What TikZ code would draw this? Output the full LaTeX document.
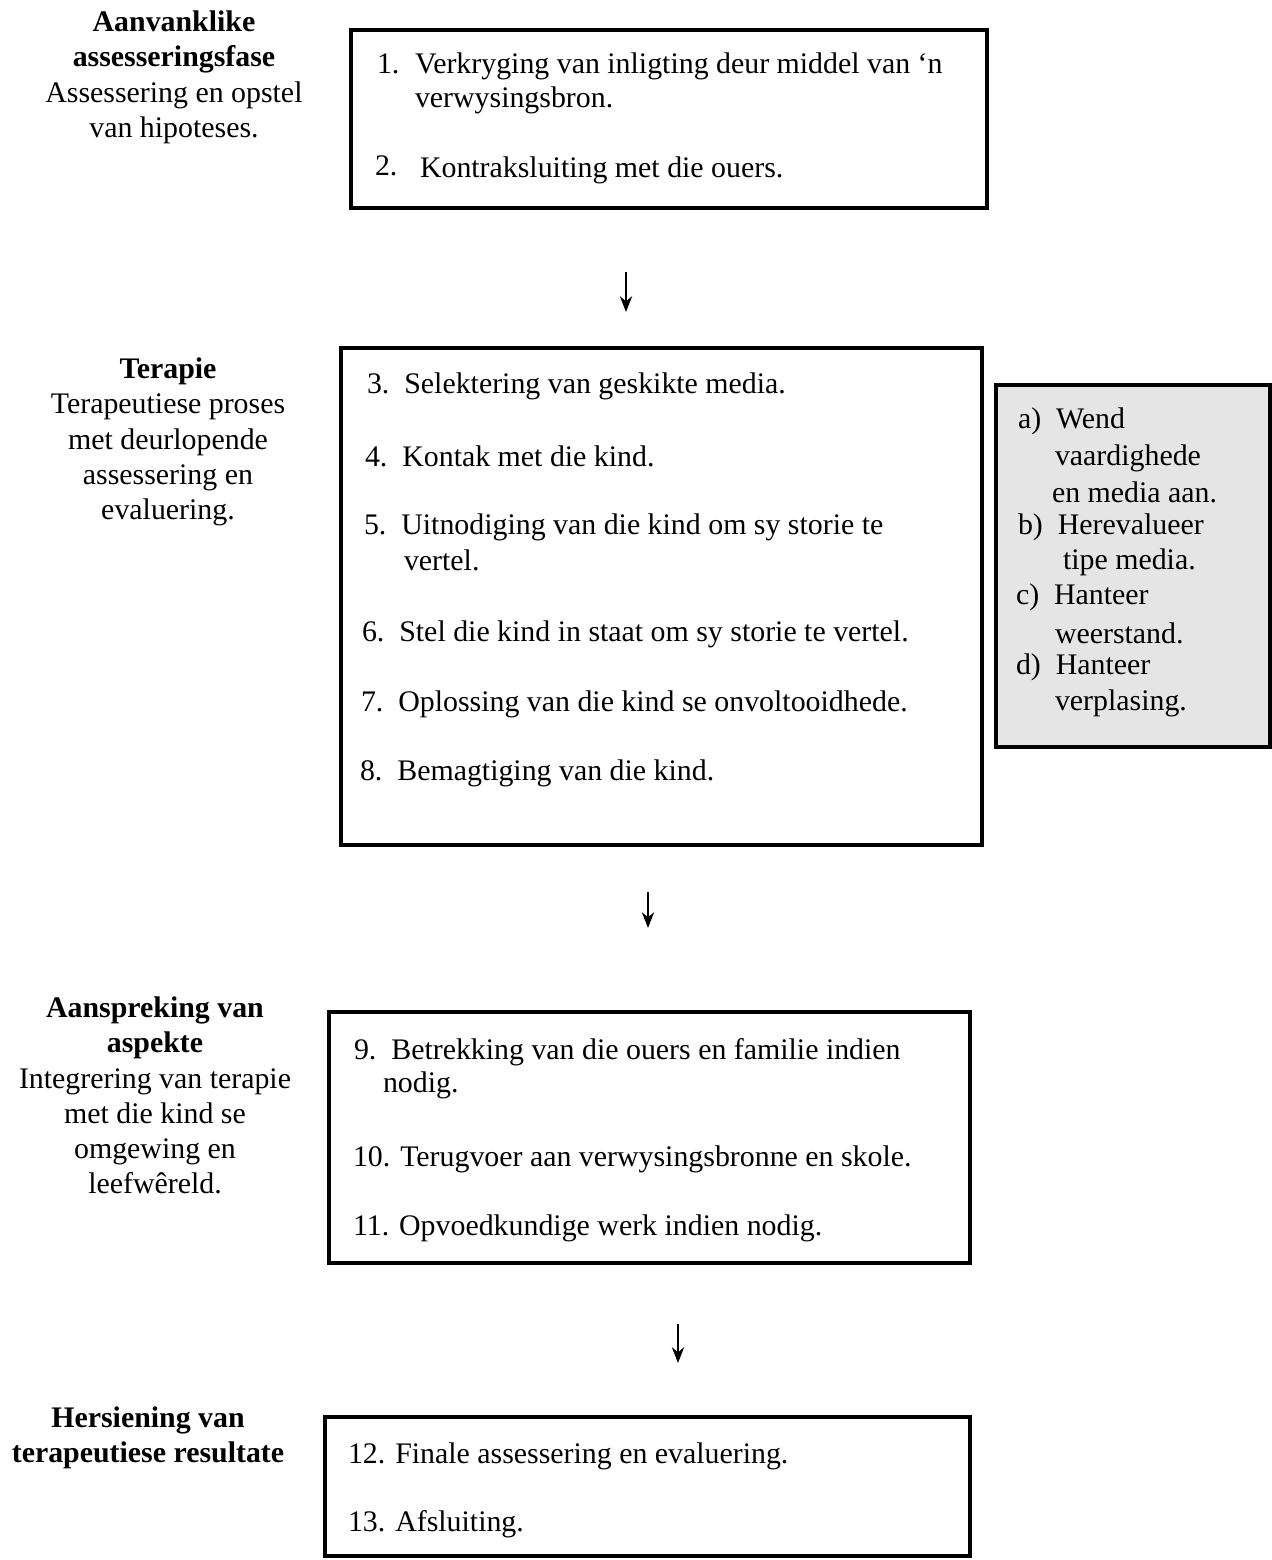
\documentclass[tikz,border=0pt]{standalone}
\usepackage{fontspec}
\setmainfont{Liberation Serif}
\usetikzlibrary{arrows.meta}
\begin{document}
\begin{tikzpicture}[x=0.02cm,y=-0.02cm,
  every node/.style={inner sep=0pt, outer sep=0pt, font=\fontsize{17}{20}\selectfont},
  box/.style={draw=black, line width=2.3pt, rectangle},
  graybox/.style={box, fill=black!10},
  item/.style={anchor=west},
  phase/.style={align=center, anchor=north},
  arr/.style={line width=1.1pt, -{Stealth[length=9pt,width=7pt]}}]
\useasboundingbox (0,0) rectangle (1272,1560);
% boxes
\node[box, minimum width=12.72cm, minimum height=3.56cm] (b1) at (669,119) {};
\node[box, minimum width=12.82cm, minimum height=9.94cm] (b2) at (661.5,596.5) {};
\node[graybox, minimum width=5.48cm, minimum height=7.24cm] (b2x) at (1133,566) {};
\node[box, minimum width=12.82cm, minimum height=5.02cm] (b3) at (649.5,1137.5) {};
\node[box, minimum width=12.9cm, minimum height=2.78cm] (b4) at (647.5,1486.5) {};
% phase labels
\node[phase] (p1) at (174,11) {\textbf{Aanvanklike}\\ \textbf{assesseringsfase}\\ Assessering en opstel\\ van hipoteses.};
\node[phase] (p2) at (168,358) {\textbf{Terapie}\\ Terapeutiese proses\\ met deurlopende\\ assessering en\\ evaluering.};
\node[phase] (p3) at (155,997) {\textbf{Aanspreking van}\\ \textbf{aspekte}\\ Integrering van terapie\\ met die kind se\\ omgewing en\\ leefwêreld.};
\node[phase] (p4) at (148,1407) {\textbf{Hersiening van}\\ \textbf{terapeutiese resultate}};
% box 1
\node[item] (t1) at (377,64) {1.};
\node[item] (t1a) at (415,66) {Verkryging van inligting deur middel van ‘n};
\node[item] (t1b) at (415,100) {verwysingsbron.};
\node[item] (t2) at (375,166) {2.};
\node[item] (t2a) at (420,170) {Kontraksluiting met die ouers.};
% box 2
\node[item] (t3) at (367,386) {3.\ \ Selektering van geskikte media.};
\node[item] (t4) at (365,456) {4.\ \ Kontak met die kind.};
\node[item] (t5) at (364,527) {5.\ \ Uitnodiging van die kind om sy storie te};
\node[item] (t5b) at (404,560) {vertel.};
\node[item] (t6) at (362,634) {6.\ \ Stel die kind in staat om sy storie te vertel.};
\node[item] (t7) at (361,704) {7.\ \ Oplossing van die kind se onvoltooidhede.};
\node[item] (t8) at (360,773) {8.\ \ Bemagtiging van die kind.};
% gray box
\node[item] (ta) at (1018,421) {a)\ \ Wend};
\node[item] (ta2) at (1055,458) {vaardighede};
\node[item] (ta3) at (1052,492) {en media aan.};
\node[item] (tb) at (1018,527) {b)\ \ Herevalueer};
\node[item] (tb2) at (1063,562) {tipe media.};
\node[item] (tc) at (1016,597) {c)\ \ Hanteer};
\node[item] (tc2) at (1055,633) {weerstand.};
\node[item] (td) at (1016,667) {d)\ \ Hanteer};
\node[item] (td2) at (1055,703) {verplasing.};
% box 3
\node[item] (t9) at (354,1052) {9.\ \ Betrekking van die ouers en familie indien};
\node[item] (t9b) at (383,1085) {nodig.};
\node[item] (t10) at (353,1159) {10. Terugvoer aan verwysingsbronne en skole.};
\node[item] (t11) at (353,1228) {11. Opvoedkundige werk indien nodig.};
% box 4
\node[item] (t12) at (348,1456) {12. Finale assessering en evaluering.};
\node[item] (t13) at (348,1524) {13. Afsluiting.};
% arrows
\coordinate (a1s) at (626,272);
\coordinate (a1e) at (626,312);
\coordinate (a2s) at (648,892);
\coordinate (a2e) at (648,928);
\coordinate (a3s) at (678,1324);
\coordinate (a3e) at (678,1363);
\draw[arr] (a1s) -- (a1e);
\draw[arr] (a2s) -- (a2e);
\draw[arr] (a3s) -- (a3e);
\end{tikzpicture}
\end{document}
